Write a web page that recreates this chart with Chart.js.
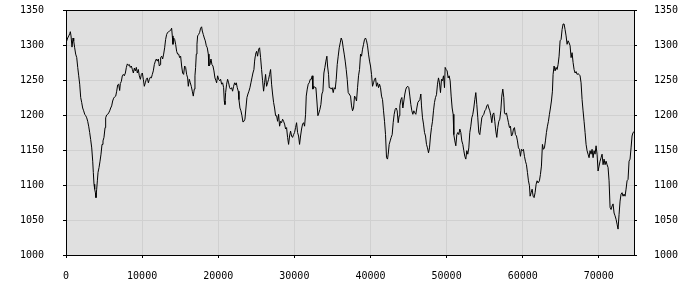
<!DOCTYPE html>
<html><head><meta charset="utf-8">
<script src="https://cdn.jsdelivr.net/npm/chart.js@4.4.1/dist/chart.umd.min.js"></script>
<style>html,body{margin:0;padding:0;background:#fff}canvas{display:block}</style>
</head><body>
<canvas id="c" width="700" height="300"></canvas>
<script>
// Sample positions (x) and values (y), in six stretches
const x1 = [0,220,360,490,570,660,790,920,1010,1140,1270,1410,1540,1670,1800,1930,2060,2190,2320,2460,2590,2720,2850,2980,3110,3240,3380,3510,3590,3680,3770,3860,3940,4030,4120,4210,4340,4470,4600,4730,4860,4990,5130,5210,5340,5480,5610,5740,5870,6000,6130,6260,6400,6530,6660,6790,6920,7050,7140,7270,7400,7530,7660,7800,7930,8060,8190,8320,8450,8580,8720,8850,8980,9110,9240,9370,9500,9630,9770,9900,10030,10160,10290,10420,10550,10680,10820,10950,11080,11210,11340,11470,11600,11740,11870,12000,12130,12260,12390];
const y1 = [1303,1310,1313,1316,1319,1313,1297,1310,1306,1296,1287,1282,1268,1256,1244,1225,1218,1210,1206,1201,1199,1196,1191,1184,1175,1165,1153,1134,1118,1101,1094,1089,1082,1094,1106,1118,1125,1134,1144,1158,1163,1168,1182,1196,1200,1201,1203,1206,1210,1213,1220,1224,1226,1227,1234,1243,1244,1235,1245,1248,1256,1258,1256,1260,1268,1273,1271,1272,1268,1270,1265,1260,1267,1263,1268,1260,1265,1256,1251,1258,1260,1251,1241,1246,1251,1253,1246,1251,1254,1253,1258,1263,1272,1277,1280,1277,1280,1270,1272];

const x2 = [12434,12565,12696,12828,12959,13090,13221,13353,13484,13615,13747,13878,13966,14053,14141,14272,14403,14535,14666,14797,14929,15060,15191,15322,15454,15585,15716,15848,15979,16067,16198,16329,16460,16592,16723,16854,16942,17029,17117,17204,17292,17423,17555,17686,17817,17905,18036,18167,18299,18430,18561,18693,18780,18912,19043,19174,19306,19437,19568,19700,19787,19918,20050,20181,20312,20444,20575,20706,20794,20881,20969,21100,21231,21363,21494,21625,21757,21888,22019,22151,22282,22370,22501,22632,22720,22851,22982,23114,23245,23376,23507,23639,23770,23901,24033,24164,24295,24427,24558,24689,24777,24864];
const y2 = [1282,1284,1280,1287,1296,1308,1315,1318,1319,1320,1321,1324,1313,1301,1310,1308,1301,1291,1287,1287,1282,1284,1270,1260,1258,1270,1268,1258,1253,1241,1251,1246,1241,1234,1227,1237,1256,1268,1287,1301,1313,1315,1318,1324,1326,1320,1315,1310,1306,1299,1296,1287,1270,1272,1280,1272,1270,1263,1253,1249,1246,1256,1251,1249,1251,1244,1246,1239,1220,1215,1232,1244,1251,1246,1239,1237,1239,1234,1241,1246,1243,1246,1239,1234,1222,1210,1206,1199,1190,1191,1194,1210,1225,1230,1234,1239,1246,1253,1260,1265,1277,1284];

const x3 = [24908,25039,25170,25302,25433,25564,25695,25827,25958,26089,26221,26352,26483,26615,26746,26877,27009,27140,27271,27403,27534,27665,27796,27928,28059,28190,28322,28453,28584,28716,28847,28978,29110,29241,29372,29503,29635,29766,29897,30029,30160,30291,30423,30554,30685,30817,30948,31079,31211,31342,31473,31561,31692,31823,31955,32086,32217,32348,32436,32567,32698,32830,32961,33092,33224,33355,33486,33618,33749,33880,34012,34143,34274,34362,34493,34581,34712,34843,34975,35106,35237,35368,35500,35631,35762,35894,36025,36156,36288,36419,36550,36681,36813,36944,37075,37207];
const y3 = [1287,1291,1284,1294,1296,1282,1265,1249,1234,1246,1258,1241,1246,1251,1258,1265,1244,1230,1218,1210,1199,1199,1191,1201,1184,1191,1189,1194,1191,1187,1180,1182,1168,1158,1170,1177,1170,1168,1172,1175,1182,1189,1175,1170,1158,1170,1180,1187,1189,1184,1201,1227,1237,1244,1246,1251,1251,1256,1237,1241,1239,1239,1220,1199,1203,1208,1215,1230,1234,1260,1268,1277,1284,1270,1258,1239,1239,1237,1239,1232,1239,1237,1251,1272,1284,1296,1303,1310,1306,1296,1287,1277,1265,1251,1232,1230];

const x4 = [37249,37381,37512,37643,37775,37906,38037,38168,38300,38431,38562,38694,38825,38956,39088,39219,39350,39482,39613,39744,39876,40007,40138,40269,40401,40532,40663,40795,40926,41057,41189,41320,41451,41583,41714,41845,41976,42108,42239,42327,42458,42589,42720,42852,42983,43114,43246,43377,43508,43640,43771,43859,43990,44121,44253,44384,44515,44647,44778,44909,45040,45172,45303,45434,45566,45697,45828,45960,46091,46222,46354,46485,46616,46704,46835,46966,47098,47229,47360,47491,47623,47754,47885,48017,48148,48279,48411,48542,48673,48805,48936,49067,49198,49330,49461,49592,49724,49811];
const y4 = [1229,1227,1213,1206,1210,1227,1225,1220,1239,1256,1265,1287,1284,1294,1301,1308,1310,1306,1299,1287,1277,1270,1258,1241,1246,1251,1253,1241,1246,1239,1244,1239,1227,1222,1206,1191,1172,1139,1137,1144,1158,1163,1168,1172,1189,1201,1208,1210,1206,1189,1199,1213,1222,1225,1210,1220,1230,1237,1240,1241,1239,1227,1215,1206,1201,1206,1203,1201,1210,1218,1220,1222,1230,1213,1196,1187,1175,1170,1158,1153,1146,1153,1170,1182,1191,1206,1218,1225,1229,1244,1253,1246,1232,1251,1249,1256,1239,1268];

const x5 = [49942,50073,50205,50336,50467,50599,50730,50861,50949,51080,51211,51343,51474,51605,51737,51868,51999,52131,52262,52393,52525,52656,52787,52918,53050,53181,53312,53444,53575,53706,53838,53969,54100,54232,54363,54494,54625,54757,54888,55019,55151,55282,55413,55545,55676,55807,55939,56070,56201,56333,56464,56595,56726,56858,56989,57120,57252,57383,57514,57602,57733,57865,57996,58127,58258,58390,58521,58652,58784,58915,59046,59178,59309,59440,59572,59703,59834,59965,60097,60228,60359,60491,60622,60753,60885,60972,61103,61235,61366,61497,61628,61760,61891,62022];
const y5 = [1265,1263,1253,1256,1249,1227,1210,1201,1172,1163,1156,1172,1175,1172,1180,1175,1163,1158,1149,1141,1137,1149,1144,1153,1175,1184,1196,1201,1210,1222,1232,1215,1196,1175,1172,1184,1196,1199,1201,1206,1208,1213,1215,1210,1206,1199,1189,1201,1203,1191,1177,1168,1182,1191,1194,1206,1227,1237,1225,1203,1201,1203,1196,1189,1182,1184,1170,1172,1180,1182,1172,1170,1163,1153,1151,1141,1151,1149,1151,1141,1134,1129,1118,1106,1099,1084,1089,1094,1084,1082,1089,1101,1106,1103];

const x6 = [62196,62328,62459,62590,62722,62853,62984,63115,63247,63378,63509,63641,63772,63903,63991,64122,64253,64385,64516,64647,64779,64910,65041,65173,65304,65435,65566,65698,65829,65960,66092,66223,66354,66486,66617,66748,66880,67011,67142,67274,67405,67536,67667,67799,67930,68061,68193,68324,68455,68587,68718,68849,68981,69112,69243,69375,69506,69637,69768,69900,70031,70162,70294,70425,70556,70688,70819,70950,71082,71213,71344,71476,71607,71738,71870,72001,72132,72264,72395,72526,72658,72789,72920,73052,73183,73314,73445,73577,73708,73839,73971,74102,74233,74365,74496,74620];
const y6 = [1106,1115,1127,1158,1151,1153,1163,1175,1184,1191,1201,1210,1220,1234,1258,1270,1263,1268,1265,1272,1284,1306,1308,1322,1330,1330,1322,1313,1301,1306,1303,1299,1282,1289,1275,1265,1260,1262,1258,1259,1258,1256,1246,1222,1206,1191,1175,1158,1149,1144,1139,1149,1144,1151,1139,1149,1144,1156,1144,1120,1127,1134,1139,1144,1129,1137,1129,1134,1129,1125,1106,1068,1065,1070,1073,1060,1056,1051,1044,1037,1058,1077,1087,1089,1084,1087,1084,1094,1106,1108,1134,1137,1153,1170,1175,1176];

const xTickValues = [0,10000,20000,30000,40000,50000,60000,70000];
const yTickValues = [1000,1050,1100,1150,1200,1250,1300,1350];

const xs = [x1,x2,x3,x4,x5,x6], ys = [y1,y2,y3,y4,y5,y6];
const points = [];
xs.forEach((arr, k) => {
  const n = Math.min(arr.length, ys[k].length);
  if (arr.length !== ys[k].length) console.log('length mismatch seg', k+1, arr.length, ys[k].length);
  for (let i = 0; i < n; i++) points.push({x: arr[i], y: ys[k][i]});
});

const FONT = {family: 'DejaVu Sans Mono', size: 10};

const frame = {
  id: 'frame',
  beforeDraw(chart) {
    const {ctx, chartArea: a} = chart;
    ctx.save();
    ctx.fillStyle = '#e0e0e0';
    ctx.fillRect(a.left, a.top, a.right - a.left, a.bottom - a.top);
    ctx.restore();
  },
  afterDraw(chart) {
    const {ctx, chartArea: a} = chart;
    ctx.save();
    ctx.strokeStyle = '#000';
    ctx.lineWidth = 1;
    ctx.strokeRect(a.left + 0.5, a.top + 0.5, a.right - a.left, a.bottom - a.top);
    ctx.restore();
  }
};

function noPad(s) { s.paddingTop = 0; s.paddingBottom = 0; s.paddingLeft = 0; s.paddingRight = 0; }

new Chart(document.getElementById('c'), {
  type: 'line',
  data: {
    datasets: [{
      data: points,
      borderColor: '#000',
      borderWidth: 1,
      pointRadius: 0,
      tension: 0,
      fill: false
    }]
  },
  options: {
    responsive: false,
    animation: false,
    devicePixelRatio: 1,
    layout: {padding: {top: 10, left: 0, right: 0, bottom: 0}},
    plugins: {legend: {display: false}, tooltip: {enabled: false}},
    scales: {
      x: {
        type: 'linear', position: 'bottom',
        min: 0, max: 74620,
        afterFit: s => { s.height = 45; noPad(s); },
        afterBuildTicks: s => { s.ticks = xTickValues.map(v => ({value: v})); },
        grid: {color: '#d0d0d0', tickColor: '#000', tickLength: 3, drawTicks: true},
        border: {display: false},
        ticks: {font: FONT, color: '#000', padding: 12, maxRotation: 0, autoSkip: false, includeBounds: false, callback: v => String(v)}
      },
      y: {
        type: 'linear', position: 'left',
        min: 1000, max: 1350,
        afterFit: s => { s.width = 66; noPad(s); },
        afterBuildTicks: s => { s.ticks = yTickValues.map(v => ({value: v})); },
        grid: {color: '#d0d0d0', tickColor: '#000', tickLength: 3},
        border: {display: false},
        ticks: {font: FONT, color: '#000', padding: 19, callback: v => String(v)}
      },
      yr: {
        type: 'linear', position: 'right',
        min: 1000, max: 1350,
        afterFit: s => { s.width = 66; noPad(s); },
        afterBuildTicks: s => { s.ticks = yTickValues.map(v => ({value: v})); },
        grid: {drawOnChartArea: false, tickColor: '#000', tickLength: 3},
        border: {display: false},
        ticks: {font: FONT, color: '#000', padding: 17, callback: v => String(v)}
      }
    }
  },
  plugins: [frame]
});
</script>
</body></html>
